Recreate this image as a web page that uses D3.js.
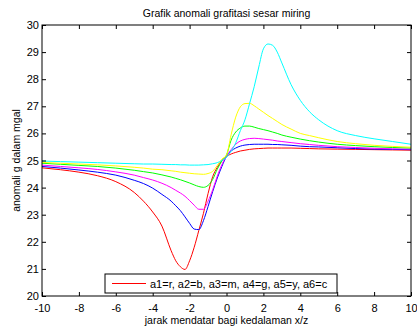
<!DOCTYPE html>
<html>
<head>
<meta charset="utf-8">
<script src="https://cdn.jsdelivr.net/npm/d3@7"></script>
<style>
  body { margin: 0; background: #fff; }
  svg text { font-family: "Liberation Sans", Arial, sans-serif; fill: #000; }
</style>
</head>
<body>
<svg id="chart" width="417" height="327"></svg>
<script>
// jarak x/z
var xVals = [-10, -9, -8, -7, -6, -5, -4.5, -4, -3.5, -3, -2.75, -2.5, -2.25, -2, -1.75, -1.5, -1.25, -1, -0.75, -0.5, -0.25,
    0, 0.25, 0.5, 0.75, 1, 1.25, 1.5, 1.75, 2, 2.25, 2.5, 2.75, 3, 3.5, 4, 4.5, 5, 6, 7, 8, 9, 10]
// anomali (mgal) tiap kurva a1..a6
var a1 = [24.73, 24.66, 24.57, 24.44, 24.22, 23.82, 23.5, 23.1, 22.58, 21.67, 21.3, 21.08, 20.98, 21.3, 21.8, 22.42, 23.05, 23.78, 24.4, 24.75, 25.0,
    25.15, 25.24, 25.3, 25.35, 25.38, 25.41, 25.43, 25.44, 25.45, 25.46, 25.46, 25.46, 25.46, 25.46, 25.45, 25.44, 25.43, 25.42, 25.41, 25.4, 25.39, 25.38]
var a2 = [24.78, 24.72, 24.65, 24.57, 24.46, 24.27, 24.15, 23.98, 23.75, 23.5, 23.33, 23.15, 22.92, 22.68, 22.47, 22.45, 22.78, 23.3, 23.85, 24.35, 24.78,
    25.15, 25.35, 25.46, 25.53, 25.57, 25.59, 25.6, 25.6, 25.6, 25.6, 25.59, 25.59, 25.58, 25.56, 25.53, 25.51, 25.5, 25.47, 25.44, 25.42, 25.41, 25.4]
var a3 = [24.83, 24.78, 24.73, 24.67, 24.58, 24.46, 24.37, 24.28, 24.16, 24.0, 23.9, 23.8, 23.68, 23.52, 23.35, 23.2, 23.2, 23.5, 23.92, 24.42, 24.85,
    25.17, 25.4, 25.6, 25.72, 25.78, 25.81, 25.82, 25.81, 25.79, 25.77, 25.75, 25.72, 25.7, 25.66, 25.62, 25.59, 25.56, 25.51, 25.48, 25.45, 25.43, 25.42]
var a4 = [24.9, 24.86, 24.82, 24.78, 24.72, 24.64, 24.59, 24.54, 24.47, 24.39, 24.34, 24.29, 24.23, 24.17, 24.1, 24.04, 24.01, 24.08, 24.3, 24.68, 24.98,
    25.2, 25.75, 26.05, 26.2, 26.27, 26.27, 26.23, 26.18, 26.14, 26.1, 26.05, 26.0, 25.94, 25.86, 25.79, 25.73, 25.68, 25.6, 25.55, 25.51, 25.48, 25.46]
var a5 = [24.93, 24.9, 24.87, 24.84, 24.8, 24.75, 24.72, 24.68, 24.66, 24.62, 24.6, 24.57, 24.55, 24.53, 24.51, 24.5, 24.49, 24.52, 24.6, 24.82, 25.05,
    25.2, 25.95, 26.6, 26.98, 27.1, 27.11, 27.02, 26.9, 26.78, 26.66, 26.55, 26.44, 26.33, 26.16, 26.0, 25.92, 25.84, 25.7, 25.62, 25.56, 25.52, 25.49]
var a6 = [24.98, 24.96, 24.94, 24.92, 24.9, 24.88, 24.87, 24.87, 24.86, 24.85, 24.85, 24.84, 24.84, 24.83, 24.83, 24.83, 24.84, 24.85, 24.88, 24.92, 25.0,
    25.12, 25.35, 25.65, 26.1, 26.5, 27.1, 27.72, 28.45, 29.12, 29.3, 29.25, 29.0, 28.6, 27.8, 27.22, 26.8, 26.5, 26.1, 25.92, 25.8, 25.7, 25.6]
var seriesList = [a1, a2, a3, a4, a5, a6]
var lineColors = ['#ff0000', '#0000ff', '#ff00ff', '#00ff00', '#ffff00', '#00ffff']
var xTicks = [-10, -8, -6, -4, -2, 0, 2, 4, 6, 8, 10]
var yTicks = [20, 21, 22, 23, 24, 25, 26, 27, 28, 29, 30]
var titleText = 'Grafik anomali grafitasi sesar miring'
var xLabel = 'jarak mendatar bagi kedalaman x/z'
var yLabel = 'anomali g dalam mgal'
var legendText = 'a1=r, a2=b, a3=m, a4=g, a5=y, a6=c'

var svg = d3.select('#chart')
var pLeft = 42, pRight = 411, pTop = 25, pBottom = 296

var xScale = d3.scaleLinear().domain([-10, 10]).range([pLeft, pRight])
var yScale = d3.scaleLinear().domain([20, 30]).range([pBottom, pTop])

// garis data
var line = d3.line()
    .x((d, i) => xScale(xVals[i]))
    .y(d => yScale(d))
    .curve(d3.curveMonotoneX)

for (var i = 0; i < seriesList.length; i++) {
    svg.append('path')
        .attr('d', line(seriesList[i]))
        .attr('fill', 'none')
        .attr('stroke', lineColors[i])
        .attr('stroke-width', 1)
}

// sumbu (gaya matlab, tick ke dalam)
function styleAxis(g, noText) {
    g.select('.domain').remove()
    g.selectAll('.tick line').attr('stroke', '#000')
    g.selectAll('.tick text').style('font-size', '11px').style('font-family', '"Liberation Sans", Arial, sans-serif')
    if (noText) g.selectAll('.tick text').remove()
}
var fmt = d => String(d)
svg.append('g').attr('transform', `translate(0,${pBottom})`)
    .call(d3.axisBottom(xScale).tickValues(xTicks).tickFormat(fmt).tickSizeInner(-4).tickSizeOuter(0).tickPadding(8))
    .call(g => styleAxis(g, false))
svg.append('g').attr('transform', `translate(0,${pTop})`)
    .call(d3.axisTop(xScale).tickValues(xTicks).tickSizeInner(-4).tickSizeOuter(0))
    .call(g => styleAxis(g, true))
svg.append('g').attr('transform', `translate(${pLeft},0)`)
    .call(d3.axisLeft(yScale).tickValues(yTicks).tickFormat(fmt).tickSizeInner(-4).tickSizeOuter(0).tickPadding(3))
    .call(g => styleAxis(g, false))
svg.append('g').attr('transform', `translate(${pRight},0)`)
    .call(d3.axisRight(yScale).tickValues(yTicks).tickSizeInner(-4).tickSizeOuter(0))
    .call(g => styleAxis(g, true))

svg.append('rect')
    .attr('x', pLeft).attr('y', pTop)
    .attr('width', pRight - pLeft).attr('height', pBottom - pTop)
    .attr('fill', 'none').attr('stroke', '#000').attr('stroke-width', 1)

// judul dan label
svg.append('text').attr('x', (pLeft + pRight) / 2).attr('y', 17)
    .attr('text-anchor', 'middle').style('font-size', '10.5px').text(titleText)
svg.append('text').attr('x', (pLeft + pRight) / 2).attr('y', 324)
    .attr('text-anchor', 'middle').style('font-size', '10.5px').text(xLabel)
svg.append('text').attr('transform', `translate(20,${(pTop + pBottom) / 2}) rotate(-90)`)
    .attr('text-anchor', 'middle').style('font-size', '10.5px').text(yLabel)

// legenda
var lg = svg.append('g')
lg.append('rect').attr('x', 105).attr('y', 274).attr('width', 232).attr('height', 19)
    .attr('fill', '#fff').attr('stroke', '#000').attr('stroke-width', 1)
lg.append('line').attr('x1', 112).attr('x2', 146).attr('y1', 283.5).attr('y2', 283.5)
    .attr('stroke', lineColors[0]).attr('stroke-width', 1)
lg.append('text').attr('x', 150).attr('y', 287.5).style('font-size', '11px').text(legendText)
</script>
</body>
</html>
